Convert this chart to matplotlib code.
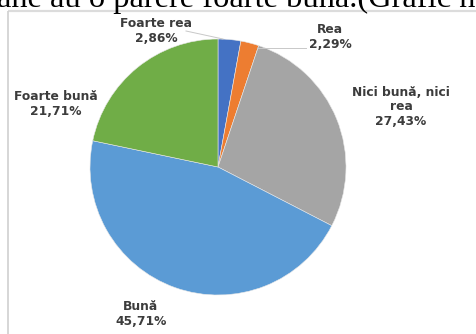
import matplotlib
matplotlib.use("Agg")
import matplotlib.pyplot as plt

W, H = 476, 334

categories = ["Foarte rea", "Rea", "Nici bună, nici\nrea", "Bună", "Foarte bună"]
values = [2.86, 2.29, 27.43, 45.71, 21.71]
colors = ["#4472C4", "#ED7D31", "#A5A5A5", "#5B9BD5", "#70AD47"]

fig = plt.figure(figsize=(W / 100, H / 100), dpi=100)
ax = fig.add_axes([0, 0, 1, 1])


def Y(y):
    # pixel row measured from the top -> data y
    return H - y


cx, cy, r = 218, 167, 128
ax.pie(values, colors=colors, startangle=90, counterclock=False,
       center=(cx, Y(cy)), radius=r,
       wedgeprops=dict(linewidth=0.4, edgecolor="#e8e8e8"))

ax.set_xlim(0, W)
ax.set_ylim(0, H)
ax.set_aspect("equal")
ax.axis("off")

# document frame around the embedded chart
ax.plot([7.5, W], [Y(10.5), Y(10.5)], color="#dcdcdc", lw=1.6, solid_capstyle="butt")
ax.plot([7.5, 7.5], [Y(10.5), 0], color="#d0d0d0", lw=1.2, solid_capstyle="butt")

# running document text above the chart
ax.text(-3, Y(6.5), "ane au o părere foarte bună.(Grafic n", family="Liberation Serif",
        fontsize=23.4, color="black", ha="left", va="baseline")

label_pos = [(156, 31), (330, 37), (401, 107), (141, 314), (56, 104)]
for name, v, (lx, ly) in zip(categories, values, label_pos):
    txt = f"{name}\n{v:.2f}%".replace(".", ",")
    ax.text(lx, Y(ly), txt, ha="center", va="center", fontsize=8.8,
            fontweight="bold", family="DejaVu Sans", color="#3c3c3c",
            linespacing=1.15)

# leader lines for the two small slices
ax.plot([186, 223], [Y(31), Y(39)], color="#c8c8c8", lw=0.7)
ax.plot([257, 306], [Y(48), Y(48)], color="#c8c8c8", lw=0.7)

fig.savefig("out.png", dpi=100)
